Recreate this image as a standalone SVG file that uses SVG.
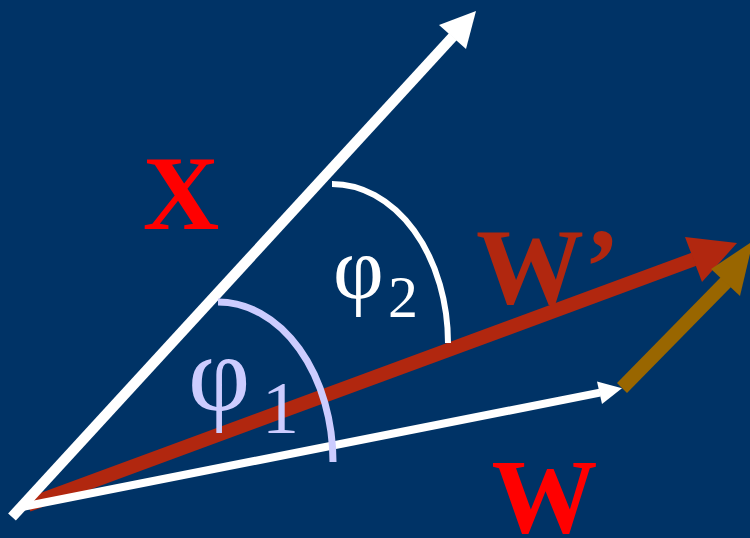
<svg xmlns="http://www.w3.org/2000/svg" width="750" height="538" viewBox="0 0 750 538">
<style>
.lbl{font-family:"Liberation Serif","Times New Roman",serif;font-weight:bold}
.greek{font-family:"Liberation Serif","Times New Roman",serif}
.shaft{fill:none;stroke-linecap:butt}
</style>
<rect width="750" height="538" fill="#003366"/>
<g id="connectors">
  <g id="arrow-w-prime">
    <line class="shaft" x1="28" y1="505" x2="694" y2="259.3" stroke="#B1270F" stroke-width="14"/>
    <polygon points="685,237 737,243 702,282" fill="#B1270F"/>
  </g>
  <g id="arrow-x">
    <line class="shaft" x1="12" y1="517" x2="453" y2="36.5" stroke="#FFFFFF" stroke-width="10.5"/>
    <polygon points="439,25 476,11 466,49" fill="#FFFFFF"/>
  </g>
  <g id="arrow-w">
    <line class="shaft" x1="22" y1="507" x2="600" y2="392.6" stroke="#FFFFFF" stroke-width="8"/>
    <polygon points="597,381.5 622,388.3 602,404" fill="#FFFFFF"/>
  </g>
  <g id="arrow-delta">
    <line class="shaft" x1="622" y1="388" x2="726" y2="282" stroke="#996600" stroke-width="14"/>
    <polygon points="711,269 753,241 740,296" fill="#996600"/>
  </g>
</g>
<g id="angle-phi1">
  <path d="M218,302 A115,160 0 0 1 333,462" fill="none" stroke="#CCCCFF" stroke-width="7"/>
  <text class="greek" fill="#CCCCFF"><tspan x="188" y="410" font-size="108">φ</tspan><tspan x="262" y="433" font-size="74">1</tspan></text>
</g>
<g id="angle-phi2">
  <path d="M332,184 A116,159 0 0 1 448,343" fill="none" stroke="#FFFFFF" stroke-width="6"/>
  <text class="greek" fill="#FFFFFF"><tspan x="333" y="298" font-size="88">φ</tspan><tspan x="388" y="317" font-size="60">2</tspan></text>
</g>
<g id="label-x"><text class="lbl" x="181" y="229" font-size="106" fill="#FF0000" text-anchor="middle">X</text></g>
<g id="label-w"><text class="lbl" x="544.5" y="532" font-size="106" fill="#FF0000" text-anchor="middle">W</text></g>
<g id="label-w-prime"><text class="lbl" x="476" y="303" font-size="108" fill="#B1270F">W’</text></g>
</svg>
